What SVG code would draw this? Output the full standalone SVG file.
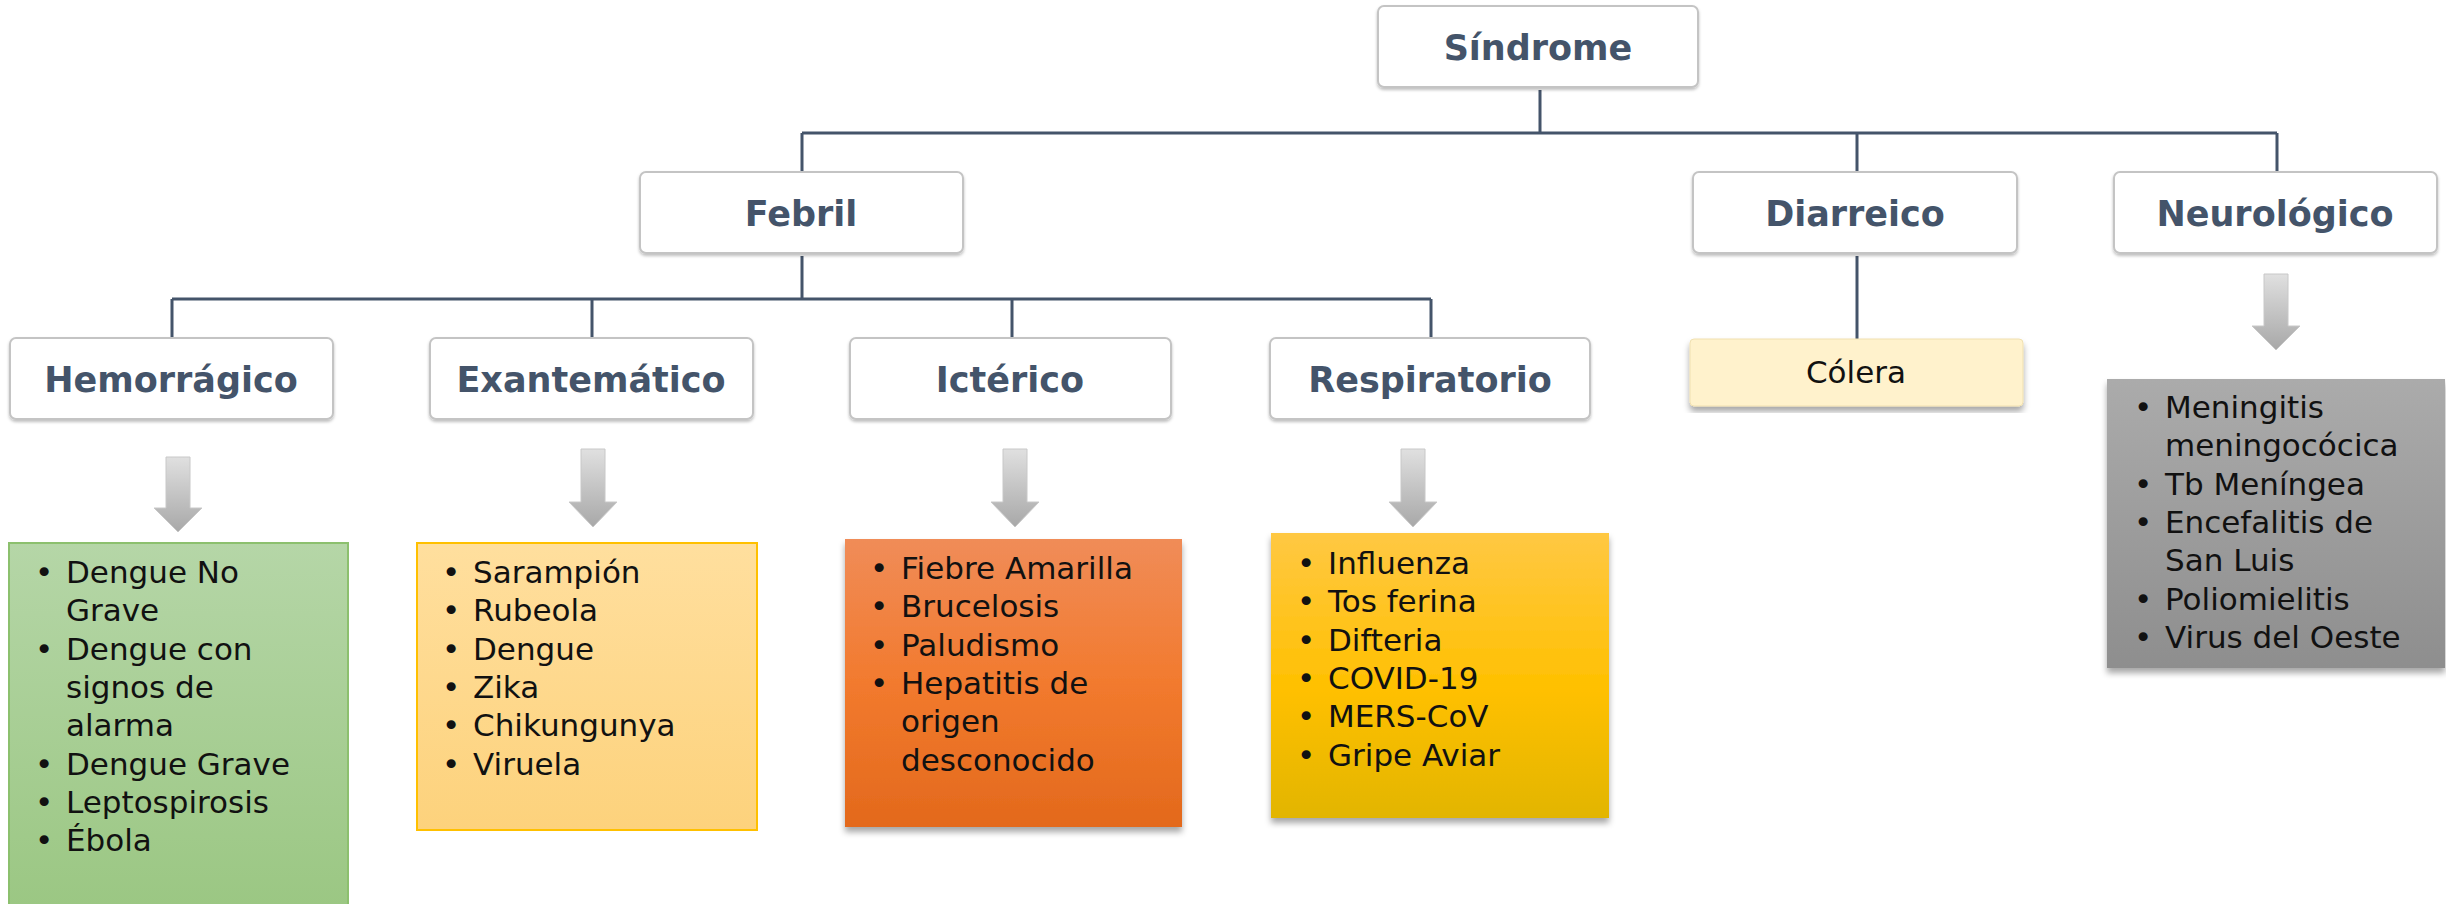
<svg xmlns="http://www.w3.org/2000/svg" width="2446" height="904" viewBox="0 0 2446 904">
<style>
.hb{fill:#fff;stroke:#c4c4c4;stroke-width:2;filter:url(#sh1)}
.ht{font-family:"DejaVu Sans",sans-serif;font-weight:bold;font-size:35px;fill:#44546A;text-anchor:middle}
.lt{font-family:"DejaVu Sans",sans-serif;font-size:31px;fill:#111}
.con{stroke:#44546A;stroke-width:3;fill:none}
.arr{fill:url(#ga);stroke:#c8c8c8;stroke-width:1}
</style>
<defs>
<filter id="sh1" x="-5%" y="-10%" width="110%" height="130%"><feDropShadow dx="0" dy="2" stdDeviation="1.5" flood-color="#000" flood-opacity="0.25"/></filter>
<filter id="sh2" x="-5%" y="-5%" width="110%" height="115%"><feDropShadow dx="0" dy="5" stdDeviation="3" flood-color="#000" flood-opacity="0.35"/></filter>
<linearGradient id="ga" x1="0" y1="0" x2="0" y2="1"><stop offset="0" stop-color="#e0e0e0"/><stop offset="1" stop-color="#a8a8a8"/></linearGradient>
<linearGradient id="gg" x1="0" y1="0" x2="0" y2="1"><stop offset="0" stop-color="#b5d6a7"/><stop offset="1" stop-color="#9bc783"/></linearGradient>
<linearGradient id="gy" x1="0" y1="0" x2="0" y2="1"><stop offset="0" stop-color="#ffdf9e"/><stop offset="1" stop-color="#fdd27c"/></linearGradient>
<linearGradient id="go" x1="0" y1="0" x2="0" y2="1"><stop offset="0" stop-color="#f08c58"/><stop offset="0.5" stop-color="#f27a2e"/><stop offset="1" stop-color="#e3691c"/></linearGradient>
<linearGradient id="gd" x1="0" y1="0" x2="0" y2="1"><stop offset="0" stop-color="#ffc843"/><stop offset="0.55" stop-color="#ffc000"/><stop offset="1" stop-color="#e2b500"/></linearGradient>
<linearGradient id="gs" x1="0" y1="0" x2="0" y2="1"><stop offset="0" stop-color="#ababab"/><stop offset="1" stop-color="#8e8e8e"/></linearGradient>
</defs>
<rect width="2446" height="904" fill="#fff"/>
<g id="connectors">
<path class="con" d="M1540 90V133M802 133H2277M802 133V172M1857 133V172M2277 133V172"/>
<path class="con" d="M802 256V299M172 299H1431M172 299V338M592 299V338M1012 299V338M1431 299V338"/>
<path class="con" d="M1857 256V339" stroke-width="2"/>
<path class="arr" d="M166 457H190V508H202L178 532L154 508H166Z"/>
<path class="arr" d="M581 449H605V502H617L593 527L569 502H581Z"/>
<path class="arr" d="M1003 449H1027V502H1039L1015 527L991 502H1003Z"/>
<path class="arr" d="M1401 449H1425V502H1437L1413 527L1389 502H1401Z"/>
<path class="arr" d="M2264 274H2288V326H2300L2276 350L2252 326H2264Z"/>
</g>
<g id="sindrome"><rect class="hb" x="1378" y="6" width="320" height="81" rx="6"/><text class="ht" x="1538" y="60" font-size="37">Síndrome</text></g>
<g id="febril"><rect class="hb" x="640" y="172" width="323" height="81" rx="6"/><text class="ht" x="801" y="226">Febril</text></g>
<g id="diarreico"><rect class="hb" x="1693" y="172" width="324" height="81" rx="6"/><text class="ht" x="1855" y="226">Diarreico</text></g>
<g id="neurologico"><rect class="hb" x="2114" y="172" width="323" height="81" rx="6"/><text class="ht" x="2275" y="226">Neurológico</text></g>
<g id="hemorragico"><rect class="hb" x="10" y="338" width="323" height="81" rx="6"/><text class="ht" x="171" y="392">Hemorrágico</text></g>
<g id="exantematico"><rect class="hb" x="430" y="338" width="323" height="81" rx="6"/><text class="ht" x="591" y="392">Exantemático</text></g>
<g id="icterico"><rect class="hb" x="850" y="338" width="321" height="81" rx="6"/><text class="ht" x="1010" y="392">Ictérico</text></g>
<g id="respiratorio"><rect class="hb" x="1270" y="338" width="320" height="81" rx="6"/><text class="ht" x="1430" y="392">Respiratorio</text></g>
<g id="colera"><rect x="1690" y="339" width="333" height="67" rx="4" fill="#fff2cc" stroke="#f0e0b0" stroke-width="1" filter="url(#sh2)"/><text class="lt" x="1856" y="383" text-anchor="middle" font-size="30">Cólera</text></g>
<g id="lista-hemorragico"><rect x="9" y="543" width="339" height="364" fill="url(#gg)" stroke="#8cc06e" stroke-width="2"/>
<text class="lt"><tspan x="35" y="583">•</tspan><tspan x="35" y="660">•</tspan><tspan x="35" y="775">•</tspan><tspan x="35" y="813">•</tspan><tspan x="35" y="851">•</tspan></text>
<text class="lt"><tspan x="66" y="583">Dengue No</tspan><tspan x="66" y="621">Grave</tspan><tspan x="66" y="660">Dengue con</tspan><tspan x="66" y="698">signos de</tspan><tspan x="66" y="736">alarma</tspan><tspan x="66" y="775">Dengue Grave</tspan><tspan x="66" y="813">Leptospirosis</tspan><tspan x="66" y="851">Ébola</tspan></text></g>
<g id="lista-exantematico"><rect x="417" y="543" width="340" height="287" fill="url(#gy)" stroke="#ffc000" stroke-width="2"/>
<text class="lt"><tspan x="442" y="583">•</tspan><tspan x="442" y="621">•</tspan><tspan x="442" y="660">•</tspan><tspan x="442" y="698">•</tspan><tspan x="442" y="736">•</tspan><tspan x="442" y="775">•</tspan></text>
<text class="lt"><tspan x="473" y="583">Sarampión</tspan><tspan x="473" y="621">Rubeola</tspan><tspan x="473" y="660">Dengue</tspan><tspan x="473" y="698">Zika</tspan><tspan x="473" y="736">Chikungunya</tspan><tspan x="473" y="775">Viruela</tspan></text></g>
<g id="lista-icterico"><rect x="845" y="539" width="337" height="288" fill="url(#go)" filter="url(#sh2)"/>
<text class="lt"><tspan x="870" y="579">•</tspan><tspan x="870" y="617">•</tspan><tspan x="870" y="656">•</tspan><tspan x="870" y="694">•</tspan></text>
<text class="lt"><tspan x="901" y="579">Fiebre Amarilla</tspan><tspan x="901" y="617">Brucelosis</tspan><tspan x="901" y="656">Paludismo</tspan><tspan x="901" y="694">Hepatitis de</tspan><tspan x="901" y="732">origen</tspan><tspan x="901" y="771">desconocido</tspan></text></g>
<g id="lista-respiratorio"><rect x="1271" y="533" width="338" height="285" fill="url(#gd)" filter="url(#sh2)"/>
<text class="lt"><tspan x="1297" y="574">•</tspan><tspan x="1297" y="612">•</tspan><tspan x="1297" y="651">•</tspan><tspan x="1297" y="689">•</tspan><tspan x="1297" y="727">•</tspan><tspan x="1297" y="766">•</tspan></text>
<text class="lt"><tspan x="1328" y="574">Influenza</tspan><tspan x="1328" y="612">Tos ferina</tspan><tspan x="1328" y="651">Difteria</tspan><tspan x="1328" y="689">COVID-19</tspan><tspan x="1328" y="727">MERS-CoV</tspan><tspan x="1328" y="766">Gripe Aviar</tspan></text></g>
<g id="lista-neurologico"><rect x="2107" y="379" width="338" height="289" fill="url(#gs)" filter="url(#sh2)"/>
<text class="lt"><tspan x="2134" y="418">•</tspan><tspan x="2134" y="495">•</tspan><tspan x="2134" y="533">•</tspan><tspan x="2134" y="610">•</tspan><tspan x="2134" y="648">•</tspan></text>
<text class="lt"><tspan x="2165" y="418">Meningitis</tspan><tspan x="2165" y="456">meningocócica</tspan><tspan x="2165" y="495">Tb Meníngea</tspan><tspan x="2165" y="533">Encefalitis de</tspan><tspan x="2165" y="571">San Luis</tspan><tspan x="2165" y="610">Poliomielitis</tspan><tspan x="2165" y="648">Virus del Oeste</tspan></text></g>
</svg>
